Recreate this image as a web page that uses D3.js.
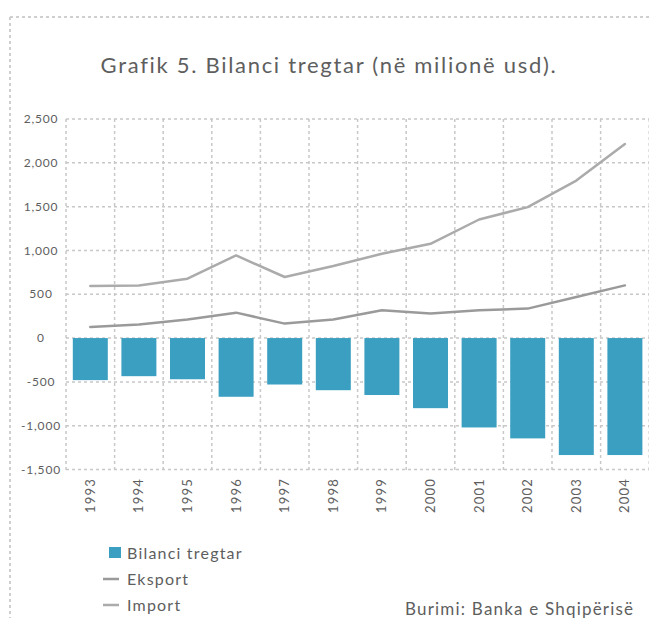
<!DOCTYPE html>
<html>
<head>
<meta charset="utf-8">
<script src="https://cdn.jsdelivr.net/npm/d3@7"></script>
<style>
  html, body { margin: 0; padding: 0; background: #fff; }
  svg { display: block; }
  text { font-family: Lato, "Open Sans", sans-serif; fill: #5e5e5e; }
</style>
</head>
<body>
<svg id="chart" width="649" height="618"></svg>
<script>
// ---- data ----
const years = ["1993","1994","1995","1996","1997","1998","1999","2000","2001","2002","2003","2004"];
const balance = [-480, -435, -470, -670, -530, -595, -650, -800, -1020, -1145, -1335, -1335];
const exportVals = [127, 154, 211, 290, 165, 211, 317, 279, 317, 336, 469, 601];
const importVals = [595, 601, 678, 943, 697, 822, 962, 1076, 1353, 1494, 1797, 2215];
const yTicks = [-1500, -1000, -500, 0, 500, 1000, 1500, 2000, 2500];
const titleText = "Grafik 5. Bilanci tregtar (në milionë usd).";
const legendLabels = ["Bilanci tregtar", "Eksport", "Import"];
const sourceText = "Burimi: Banka e Shqipërisë";

// ---- layout ----
const svg = d3.select("#chart");
const W = 649, H = 618;
const plot = { left: 66, right: 649.2, top: 119, bottom: 469.5 };
const barColor = "#3a9fc0";
const gridColor = "#c8c8c8";

svg.append("rect").attr("width", W).attr("height", H).attr("fill", "#fff");

// outer dotted frame
svg.append("line").attr("x1", 10).attr("x2", W).attr("y1", 17).attr("y2", 17)
  .attr("stroke", "#cfcfcf").attr("stroke-width", 2).attr("stroke-dasharray", "3,3");
svg.append("line").attr("x1", 10).attr("x2", 10).attr("y1", 17).attr("y2", H)
  .attr("stroke", "#cfcfcf").attr("stroke-width", 2).attr("stroke-dasharray", "3,3");

// title
svg.append("text").attr("x", 329).attr("y", 73).attr("text-anchor", "middle")
  .attr("font-size", 22).attr("letter-spacing", 1.7).text(titleText);

const x = d3.scaleBand().domain(years).range([plot.left, plot.right])
  .paddingInner(0.28).paddingOuter(0.14);
const y = d3.scaleLinear().domain([-1500, 2500]).range([plot.bottom, plot.top]);

// gridlines
const grid = svg.append("g");
grid.selectAll("line.h").data(yTicks).join("line")
  .attr("x1", plot.left).attr("x2", plot.right)
  .attr("y1", d => y(d)).attr("y2", d => y(d))
  .attr("stroke", gridColor).attr("stroke-width", 1.5).attr("stroke-dasharray", "3,3");
const step = x.step();
const vBounds = d3.range(years.length + 1).map(i => plot.left + i * step);
grid.selectAll("line.v").data(vBounds).join("line")
  .attr("x1", d => d).attr("x2", d => d)
  .attr("y1", plot.top).attr("y2", plot.bottom + 2)
  .attr("stroke", gridColor).attr("stroke-width", 1.5).attr("stroke-dasharray", "3,3");

// y labels
svg.append("g").selectAll("text").data(yTicks).join("text")
  .attr("x", 41).attr("y", d => y(d)).attr("dy", "0.35em")
  .attr("text-anchor", "middle").attr("font-size", 12).attr("letter-spacing", 0.8)
  .text(d => d3.format(",")(d).replace("−", "-"));

// bars
svg.append("g").selectAll("rect").data(years).join("rect")
  .attr("x", d => x(d))
  .attr("width", x.bandwidth())
  .attr("y", (d, i) => y(Math.max(0, balance[i])))
  .attr("height", (d, i) => Math.abs(y(balance[i]) - y(0)))
  .attr("fill", barColor);

// lines
const line = d3.line()
  .x((d, i) => x(years[i]) + x.bandwidth() / 2)
  .y(d => y(d));
svg.append("path").datum(importVals).attr("d", line)
  .attr("fill", "none").attr("stroke", "#ababab").attr("stroke-width", 2.5)
  .attr("stroke-linejoin", "round").attr("stroke-linecap", "round");
svg.append("path").datum(exportVals).attr("d", line)
  .attr("fill", "none").attr("stroke", "#9a9a9a").attr("stroke-width", 2.5)
  .attr("stroke-linejoin", "round").attr("stroke-linecap", "round");

// x labels
svg.append("g").selectAll("text").data(years).join("text")
  .attr("transform", d => `translate(${x(d) + x.bandwidth() / 2},478) rotate(-90)`)
  .attr("text-anchor", "end").attr("dy", "0.35em")
  .attr("font-size", 13).attr("letter-spacing", 1.2).text(d => d);

// legend
const lg = svg.append("g");
lg.append("rect").attr("x", 109).attr("y", 547).attr("width", 12).attr("height", 11).attr("fill", barColor);
lg.append("line").attr("x1", 103).attr("x2", 119).attr("y1", 579).attr("y2", 579)
  .attr("stroke", "#9a9a9a").attr("stroke-width", 2.5);
lg.append("line").attr("x1", 103).attr("x2", 119).attr("y1", 605).attr("y2", 605)
  .attr("stroke", "#ababab").attr("stroke-width", 2.5);
lg.selectAll("text").data(legendLabels).join("text")
  .attr("x", 127).attr("y", (d, i) => 553 + i * 26).attr("dy", "0.35em")
  .attr("font-size", 16).attr("letter-spacing", 1.2).text(d => d);

// source
svg.append("text").attr("x", 405).attr("y", 609).attr("dy", "0.35em")
  .attr("font-size", 17).attr("letter-spacing", 1.2).text(sourceText);
</script>
</body>
</html>
